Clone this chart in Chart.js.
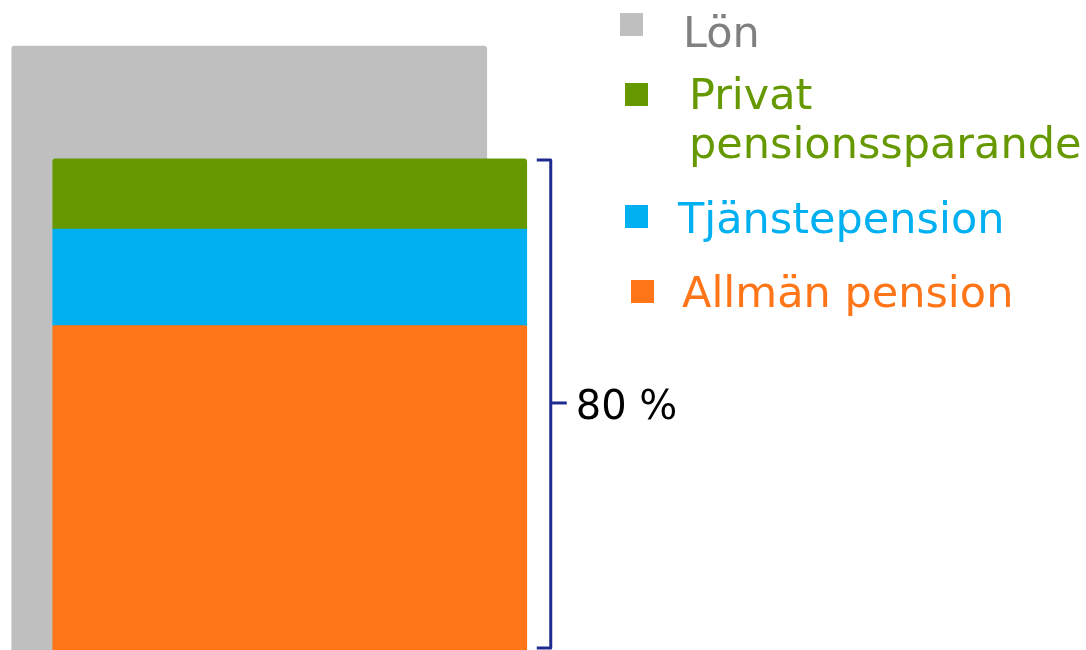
<!DOCTYPE html>
<html>
<head>
<meta charset="utf-8">
<script src="https://cdn.jsdelivr.net/npm/chart.js@4.4.0/dist/chart.umd.min.js"></script>
<style>
html,body{margin:0;padding:0;background:#fff;}
#wrap{width:1086px;height:650px;position:relative;}
</style>
</head>
<body>
<div id="wrap"><canvas id="c" width="1086" height="650"></canvas></div>
<script>
// Data
const categories = ['Lön', 'Pension'];
const seriesNames = ['Lön', 'Privat pensionssparande', 'Tjänstepension', 'Allmän pension'];
const salary = [100, null];
const privatePension = [null, 11.6];
const occupational = [null, 16.0];
const publicPension = [null, 53.7];
const bracketLabel = '80 %';

const colors = {
  salary: '#BFBFBF',
  privat: '#669900',
  tjanste: '#00B0F0',
  allman: '#FF7518'
};
const textColors = ['#808080', '#669900', '#00B0F0', '#FF7518'];
const FONT = '"DejaVu Sans", Verdana, sans-serif';

const overlayPlugin = {
  id: 'overlay',
  afterDraw(chart) {
    const ctx = chart.ctx;
    const y = chart.scales.y;
    const x = chart.scales.x;
    ctx.save();
    // Bracket spanning the pension stack
    const total = publicPension[1] + occupational[1] + privatePension[1];
    const yTop = y.getPixelForValue(total) + 1;
    const yBot = y.getPixelForValue(0) - 2;
    const xr = x.getPixelForValue(1) + 474 / 2;
    const bx = xr + 24;
    ctx.strokeStyle = '#1F2C8F';
    ctx.lineWidth = 3;
    ctx.lineJoin = 'round';
    ctx.beginPath();
    ctx.moveTo(xr + 10, yTop);
    ctx.lineTo(bx, yTop);
    ctx.lineTo(bx, yBot);
    ctx.lineTo(xr + 10, yBot);
    ctx.stroke();
    const ym = (yTop + yBot) / 2 - 1;
    ctx.beginPath();
    ctx.moveTo(bx, ym);
    ctx.lineTo(bx + 16, ym);
    ctx.stroke();
    ctx.fillStyle = '#000';
    ctx.font = '40px ' + FONT;
    ctx.textBaseline = 'alphabetic';
    ctx.fillText(bracketLabel, bx + 25, 419);

    // Legend
    ctx.font = '43px ' + FONT;
    const items = [
      {sq: [620, 13], text: ['Lön'], tx: 683, ty: [47], c: colors.salary},
      {sq: [625, 83], text: ['Privat', 'pensionssparande'], tx: 689, ty: [109, 158], c: colors.privat},
      {sq: [625, 205], text: ['Tjänstepension'], tx: 678, ty: [233], c: colors.tjanste},
      {sq: [631, 280], text: ['Allmän pension'], tx: 682, ty: [307], c: colors.allman}
    ];
    items.forEach((it, i) => {
      ctx.fillStyle = it.c;
      ctx.fillRect(it.sq[0], it.sq[1], 23, 23);
      ctx.fillStyle = textColors[i];
      it.text.forEach((t, j) => ctx.fillText(t, it.tx, it.ty[j]));
    });
    ctx.restore();
  }
};

new Chart(document.getElementById('c'), {
  type: 'bar',
  data: {
    labels: categories,
    datasets: [
      {label: seriesNames[3], data: publicPension, backgroundColor: colors.allman, barThickness: 474, clip: false, order: 0,
       borderRadius: {topLeft: 2, topRight: 2, bottomLeft: 0, bottomRight: 0}, borderSkipped: false},
      {label: seriesNames[2], data: occupational, backgroundColor: colors.tjanste, barThickness: 474, clip: false, order: 0,
       borderRadius: 0},
      {label: seriesNames[1], data: privatePension, backgroundColor: colors.privat, barThickness: 474, clip: false, order: 0,
       borderRadius: {topLeft: 3, topRight: 3, bottomLeft: 0, bottomRight: 0}, borderSkipped: false},
      {label: seriesNames[0], data: salary, backgroundColor: colors.salary, barThickness: 475, clip: false, order: 1,
       borderRadius: {topLeft: 3, topRight: 3, bottomLeft: 0, bottomRight: 0}, borderSkipped: false}
    ]
  },
  options: {
    responsive: false,
    animation: false,
    events: [],
    layout: {padding: {left: 229, right: 776, top: 46, bottom: 0}},
    plugins: {legend: {display: false}, tooltip: {enabled: false}},
    scales: {
      x: {display: false, stacked: true, offset: true},
      y: {display: false, stacked: true, min: 0, max: 100}
    }
  },
  plugins: [overlayPlugin]
});
</script>
</body>
</html>
